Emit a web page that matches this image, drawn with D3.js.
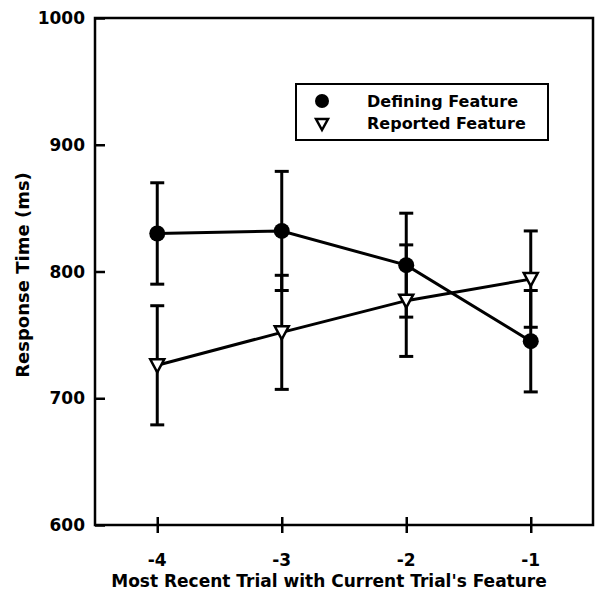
<!DOCTYPE html>
<html>
<head>
<meta charset="utf-8">
<script src="https://cdn.jsdelivr.net/npm/d3@7"></script>
<style>
  body { margin: 0; background: #fff; }
  text { font-family: "DejaVu Sans", sans-serif; font-weight: bold; fill: #000; }
</style>
</head>
<body>
<script>
// values
const trials = [-4, -3, -2, -1];
const definingRT = [830, 832, 805, 745];
const definingErr = [40, 47, 41, 40];
const reportedRT = [726, 752, 777, 794];
const reportedErr = [47, 45, 44, 38];
const yTicks = [600, 700, 800, 900, 1000];

const width = 602, height = 600;
const margin = { left: 95, right: 9, top: 18, bottom: 75 };

const svg = d3.select("body").append("svg")
    .attr("width", width)
    .attr("height", height);

const x = d3.scaleLinear().domain([-4.5, -0.5]).range([margin.left, width - margin.right]);
const y = d3.scaleLinear().domain([600, 1000]).range([height - margin.bottom, margin.top]);

// frame
svg.append("rect")
    .attr("x", x(-4.5)).attr("y", y(1000))
    .attr("width", x(-0.5) - x(-4.5)).attr("height", y(600) - y(1000))
    .attr("fill", "none").attr("stroke", "#000").attr("stroke-width", 2.5);

// y axis: ticks point inward
const yAxis = svg.append("g")
    .attr("transform", `translate(${x(-4.5)},0)`)
    .call(d3.axisRight(y).tickValues(yTicks).tickSize(10).tickFormat(""));
yAxis.select(".domain").remove();
yAxis.selectAll("line").attr("stroke-width", 2.5);

svg.selectAll(".ylab")
    .data(yTicks)
    .enter().append("text")
    .attr("class", "ylab")
    .attr("x", x(-4.5) - 10)
    .attr("y", d => y(d))
    .attr("dy", "0.36em")
    .attr("text-anchor", "end")
    .style("font-size", "17px")
    .text(d => d);

// x axis: ticks cross the axis
const xAxis = svg.append("g")
    .attr("transform", `translate(0,${y(600) - 8})`)
    .call(d3.axisBottom(x).tickValues(trials).tickSize(16).tickFormat(""));
xAxis.select(".domain").remove();
xAxis.selectAll("line").attr("stroke-width", 2.5);

svg.selectAll(".xlab")
    .data(trials)
    .enter().append("text")
    .attr("class", "xlab")
    .attr("x", d => x(d))
    .attr("y", y(600) + 41)
    .attr("text-anchor", "middle")
    .style("font-size", "17px")
    .text(d => d);

svg.append("text")
    .attr("x", 329)
    .attr("y", 587)
    .attr("text-anchor", "middle")
    .style("font-size", "17px")
    .text("Most Recent Trial with Current Trial's Feature");

svg.append("text")
    .attr("transform", `translate(29,275) rotate(-90)`)
    .attr("text-anchor", "middle")
    .style("font-size", "18px")
    .text("Response Time (ms)");

function drawSeries(values, errs) {
    const pts = trials.map((t, i) => ({ t, v: values[i], e: errs[i] }));
    const g = svg.append("g");
    g.selectAll(".err")
        .data(pts)
        .enter().append("line")
        .attr("x1", d => x(d.t)).attr("x2", d => x(d.t))
        .attr("y1", d => y(d.v - d.e)).attr("y2", d => y(d.v + d.e))
        .attr("stroke", "#000").attr("stroke-width", 3);
    pts.forEach(d => {
        [d.v - d.e, d.v + d.e].forEach(c => {
            g.append("line")
                .attr("x1", x(d.t) - 7).attr("x2", x(d.t) + 7)
                .attr("y1", y(c)).attr("y2", y(c))
                .attr("stroke", "#000").attr("stroke-width", 3);
        });
    });
    g.append("path")
        .datum(pts)
        .attr("fill", "none")
        .attr("stroke", "#000")
        .attr("stroke-width", 3)
        .attr("d", d3.line().x(d => x(d.t)).y(d => y(d.v)));
    return { g, pts };
}

const def = drawSeries(definingRT, definingErr);
const rep = drawSeries(reportedRT, reportedErr);

const triangle = "M-7,-6L7,-6L0,7Z";

def.g.selectAll(".dot")
    .data(def.pts)
    .enter().append("circle")
    .attr("cx", d => x(d.t)).attr("cy", d => y(d.v))
    .attr("r", 8).attr("fill", "#000");

rep.g.selectAll(".tri")
    .data(rep.pts)
    .enter().append("path")
    .attr("transform", d => `translate(${x(d.t)},${y(d.v)})`)
    .attr("d", triangle)
    .attr("fill", "#fff").attr("stroke", "#000").attr("stroke-width", 2.5);

// legend
const legend = svg.append("g").attr("transform", "translate(296,84)");
legend.append("rect")
    .attr("width", 252).attr("height", 56)
    .attr("fill", "#fff").attr("stroke", "#000").attr("stroke-width", 2);
legend.append("circle").attr("cx", 26).attr("cy", 17).attr("r", 7).attr("fill", "#000");
legend.append("path")
    .attr("transform", "translate(26,40)")
    .attr("d", "M-6,-5L6,-5L0,6Z")
    .attr("fill", "#fff").attr("stroke", "#000").attr("stroke-width", 2.5);
legend.append("text").attr("x", 71).attr("y", 23).style("font-size", "16px").text("Defining Feature");
legend.append("text").attr("x", 71).attr("y", 45).style("font-size", "16px").text("Reported Feature");
</script>
</body>
</html>
